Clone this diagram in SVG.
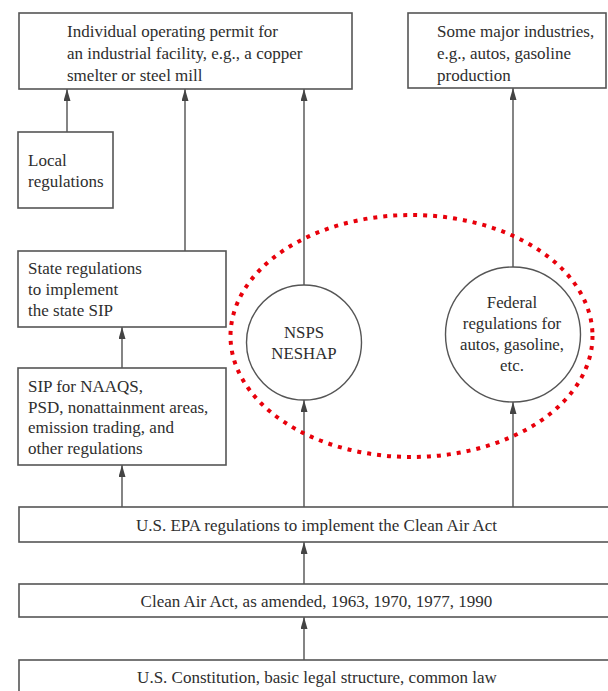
<svg xmlns="http://www.w3.org/2000/svg" width="608" height="691" viewBox="0 0 608 691">
<style>
.box{fill:#fff;stroke:#555;stroke-width:1.6}
.circ{fill:#fff;stroke:#555;stroke-width:1.4}
.t{font-family:"Liberation Serif","Times New Roman",serif;font-size:17px;fill:#2e2e2e}
.tc{font-family:"Liberation Serif","Times New Roman",serif;font-size:16.8px;fill:#2e2e2e;text-anchor:middle}
.mid{text-anchor:middle}
.c{stroke:#666;stroke-width:1.6;fill:none;marker-end:url(#ah)}
</style>
<defs>
<marker id="ah" viewBox="0 0 10 10" refX="10" refY="5" markerWidth="12" markerHeight="7" preserveAspectRatio="none" markerUnits="userSpaceOnUse" orient="auto">
<path d="M0,0 L10,5 L0,10 z" fill="#444"/>
</marker>
</defs>
<rect width="608" height="691" fill="#fff"/>
<g id="connectors">
<line class="c" x1="67" y1="132" x2="67" y2="89"/>
<line class="c" x1="185" y1="251" x2="185" y2="89"/>
<line class="c" x1="304" y1="285" x2="304" y2="89"/>
<line class="c" x1="513" y1="267" x2="513" y2="88"/>
<line class="c" x1="122" y1="368" x2="122" y2="327"/>
<line class="c" x1="122" y1="507" x2="122" y2="465"/>
<line class="c" x1="304" y1="507" x2="304" y2="400"/>
<line class="c" x1="513" y1="507" x2="513" y2="402"/>
<line class="c" x1="304" y1="584" x2="304" y2="542"/>
<line class="c" x1="304" y1="660" x2="304" y2="617"/>
</g>
<g id="permit">
<rect class="box" x="19" y="13" width="333" height="76"/>
<text class="t" x="67" y="37">Individual operating permit for</text>
<text class="t" x="67" y="59">an industrial facility, e.g., a copper</text>
<text class="t" x="67" y="81">smelter or steel mill</text>
</g>
<g id="industries">
<rect class="box" x="408" y="13" width="198" height="75"/>
<text class="t" x="437" y="37">Some major industries,</text>
<text class="t" x="437" y="59">e.g., autos, gasoline</text>
<text class="t" x="437" y="81">production</text>
</g>
<g id="local">
<rect class="box" x="18" y="132" width="95" height="76"/>
<text class="t" x="28" y="166">Local</text>
<text class="t" x="28" y="187">regulations</text>
</g>
<g id="state">
<rect class="box" x="18" y="251" width="208" height="76"/>
<text class="t" x="28" y="274">State regulations</text>
<text class="t" x="28" y="295">to implement</text>
<text class="t" x="28" y="316">the state SIP</text>
</g>
<g id="sip">
<rect class="box" x="18" y="368" width="208" height="97"/>
<text class="t" x="28" y="392">SIP for NAAQS,</text>
<text class="t" x="28" y="412.5">PSD, nonattainment areas,</text>
<text class="t" x="28" y="433">emission trading, and</text>
<text class="t" x="28" y="453.5">other regulations</text>
</g>
<g id="nsps">
<circle class="circ" cx="304" cy="342.5" r="57.5"/>
<text class="tc" x="304" y="338">NSPS</text>
<text class="tc" x="304" y="359">NESHAP</text>
</g>
<g id="federal">
<circle class="circ" cx="513" cy="334.5" r="67.5"/>
<text class="tc" x="512" y="308">Federal</text>
<text class="tc" x="512" y="329">regulations for</text>
<text class="tc" x="512" y="350">autos, gasoline,</text>
<text class="tc" x="512" y="371">etc.</text>
</g>
<g id="epa">
<rect class="box" x="19" y="507" width="600" height="35"/>
<text class="t mid" x="316.5" y="531">U.S. EPA regulations to implement the Clean Air Act</text>
</g>
<g id="caa">
<rect class="box" x="19" y="584" width="600" height="33"/>
<text class="t mid" x="316.5" y="607">Clean Air Act, as amended, 1963, 1970, 1977, 1990</text>
</g>
<g id="constitution">
<rect class="box" x="19" y="660" width="600" height="40"/>
<text class="t mid" x="317" y="683">U.S. Constitution, basic legal structure, common law</text>
</g>
<g id="highlight">
<ellipse cx="411.5" cy="336" rx="181" ry="121" fill="none" stroke="#e8000b" stroke-width="4" stroke-dasharray="4 6"/>
</g>
</svg>
